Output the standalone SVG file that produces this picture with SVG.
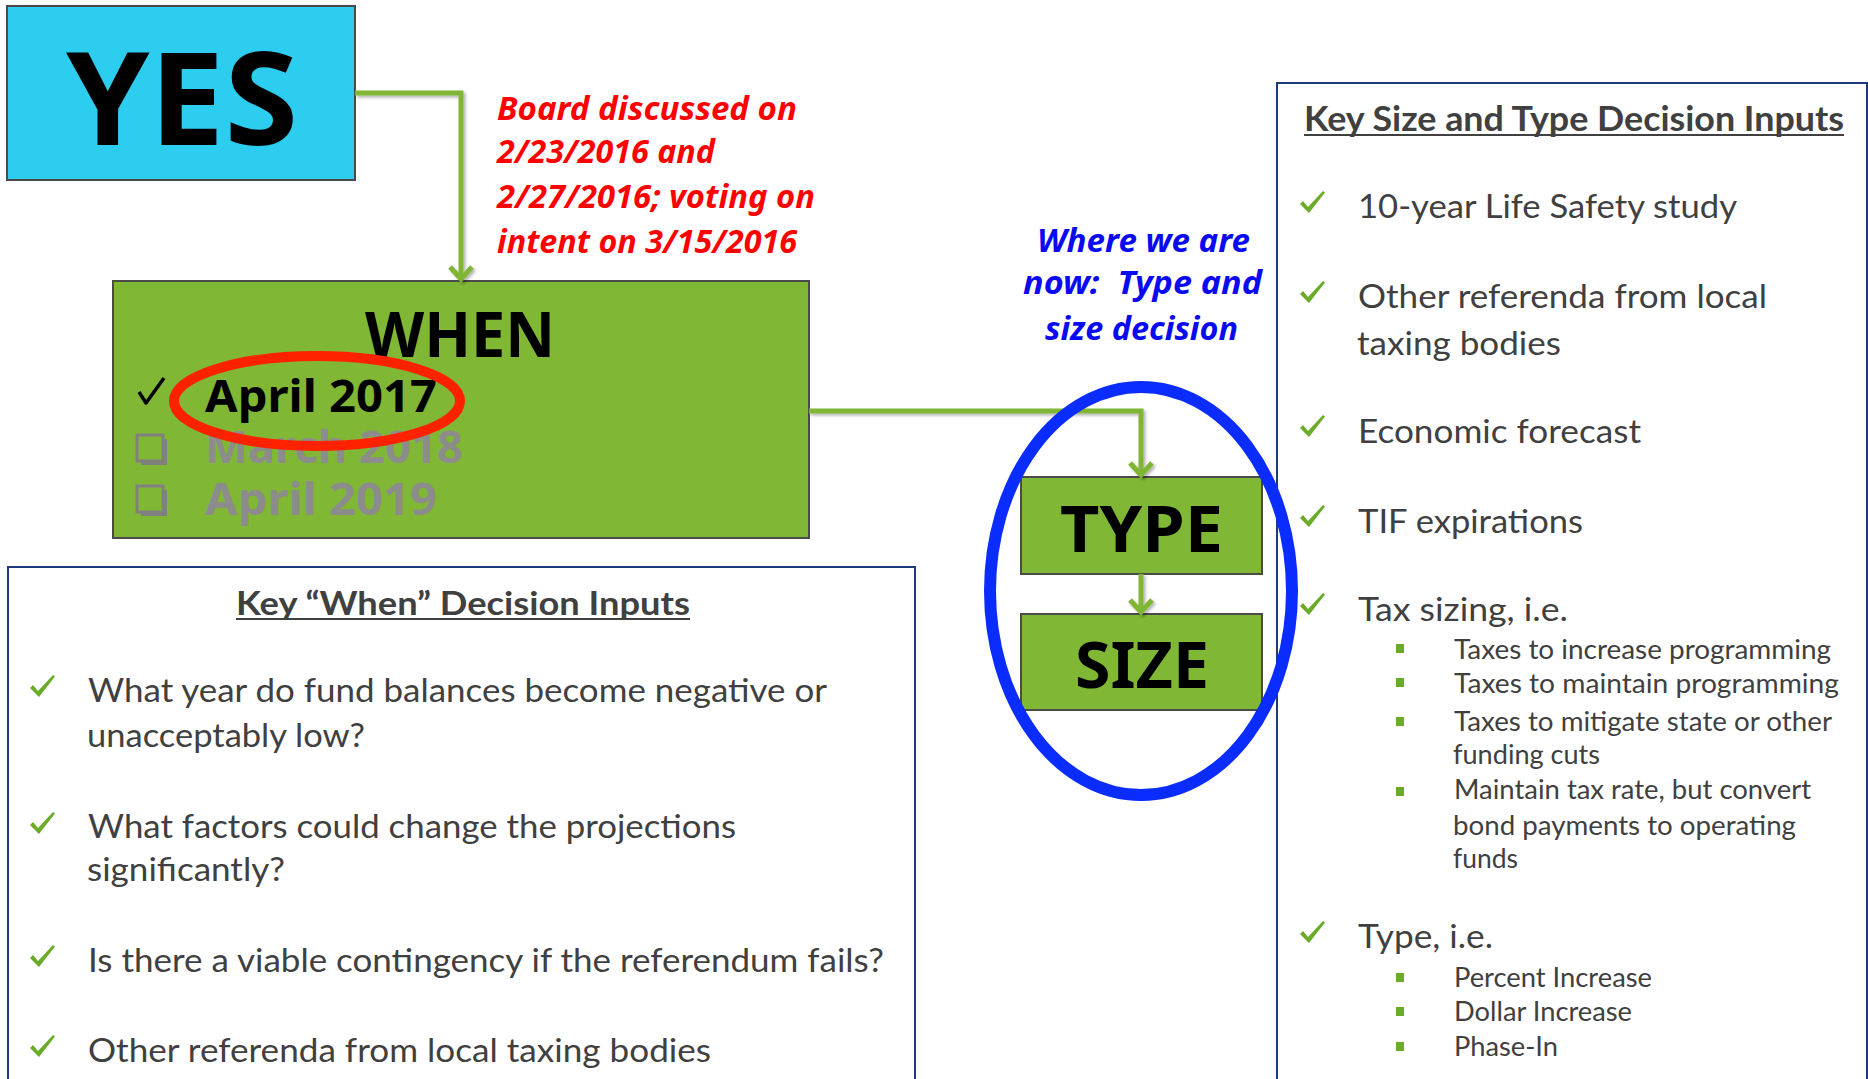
<svg xmlns="http://www.w3.org/2000/svg" width="1868" height="1079" viewBox="0 0 1868 1079">
  <style>
    .box { stroke: #4a4a4a; stroke-width: 2; }
    .cyan { fill: #2dcdf0; }
    .green { fill: #80b734; }
    .big { font-family: "Noto Sans", "Liberation Sans", sans-serif; font-weight: 700; fill: #000; }
    .red { font-family: "Noto Sans", "Liberation Sans", sans-serif; font-weight: 700; font-style: italic; font-size: 32px; fill: #ff0000; }
    .blue { font-family: "Noto Sans", "DejaVu Sans", sans-serif; font-weight: 700; font-style: italic; font-size: 33px; fill: #0a0af0; white-space: pre; }
    .opt { font-family: "Noto Sans", "Liberation Sans", sans-serif; font-weight: 700; font-size: 44px; }
    .panel { fill: #ffffff; stroke: #1f3a7a; stroke-width: 2; }
    .title { font-family: Lato, "Open Sans", sans-serif; font-weight: 700; fill: #404040; }
    .body { font-family: Lato, "Open Sans", sans-serif; fill: #404040; }
    .conn { fill: none; stroke: #80b534; stroke-width: 5; }
    .tick { fill: #6aab2a; }
    .sq { fill: #6aab2a; }
  </style>
  <defs>
    <filter id="shadow" x="-20%" y="-20%" width="140%" height="140%">
      <feDropShadow dx="2" dy="2" stdDeviation="1.5" flood-color="#000" flood-opacity="0.3"/>
    </filter>
    <marker id="chev" viewBox="-16 -16 20 32" markerWidth="20" markerHeight="32" refX="0" refY="0" orient="auto" markerUnits="userSpaceOnUse">
      <path d="M-12,-11 L0,0 L-12,11" fill="none" stroke="#80b534" stroke-width="5" stroke-linejoin="miter"/>
    </marker>
    <!-- green tick used by both bullet lists -->
    <path id="tk" d="M0,13 L3,10 L8,16 L23,0 L25,1.5 L9,22 Z"/>
    <!-- hollow checkbox with a drop edge -->
    <g id="cb">
      <rect x="4" y="4" width="26" height="26" fill="#808080"/>
      <rect x="0" y="0" width="26" height="26" fill="#80b734" stroke="#808080" stroke-width="3"/>
    </g>
  </defs>

  <rect width="1868" height="1079" fill="#ffffff"/>

  <!-- YES -->
  <g id="yes">
    <rect class="box cyan" x="7" y="6" width="348" height="174"/>
    <text class="big" x="66" y="145" font-size="130" textLength="232" lengthAdjust="spacingAndGlyphs">YES</text>
  </g>

  <!-- board note -->
  <g id="note">
    <text class="red" x="497" y="120" textLength="300" lengthAdjust="spacingAndGlyphs">Board discussed on</text>
    <text class="red" x="497" y="163" textLength="218" lengthAdjust="spacingAndGlyphs">2/23/2016 and</text>
    <text class="red" x="497" y="208" textLength="318" lengthAdjust="spacingAndGlyphs">2/27/2016; voting on</text>
    <text class="red" x="497" y="253" textLength="300" lengthAdjust="spacingAndGlyphs">intent on 3/15/2016</text>
  </g>

  <!-- WHEN -->
  <g id="when">
    <rect class="box green" x="113" y="281" width="696" height="257"/>
    <text class="big" x="365" y="357" font-size="63" textLength="190" lengthAdjust="spacingAndGlyphs">WHEN</text>
    <path d="M139,392 L146,403 L164,378" fill="none" stroke="#000" stroke-width="3.5" stroke-linejoin="round"/>
    <text class="opt" x="205" y="412" fill="#000" textLength="232" lengthAdjust="spacingAndGlyphs">April 2017</text>
    <use href="#cb" x="137" y="435"/>
    <text class="opt" x="205" y="463" fill="#8c8c8c" textLength="258" lengthAdjust="spacingAndGlyphs">March 2018</text>
    <use href="#cb" x="137" y="486"/>
    <text class="opt" x="205" y="515" fill="#8c8c8c" textLength="232" lengthAdjust="spacingAndGlyphs">April 2019</text>
    <ellipse cx="317" cy="401" rx="143" ry="45" fill="none" stroke="#ff2200" stroke-width="10"/>
  </g>

  <!-- status note -->
  <g id="status">
    <text class="blue" x="1037" y="252" textLength="213" lengthAdjust="spacingAndGlyphs">Where we are</text>
    <text class="blue" x="1023" y="294" textLength="239" lengthAdjust="spacingAndGlyphs" xml:space="preserve">now:  Type and</text>
    <text class="blue" x="1045" y="340" textLength="193" lengthAdjust="spacingAndGlyphs">size decision</text>
  </g>

  <!-- TYPE -->
  <g id="type">
    <rect class="box green" x="1021" y="477" width="241" height="97"/>
    <text class="big" x="1060" y="552" font-size="65" textLength="163" lengthAdjust="spacingAndGlyphs" font-family="DejaVu Sans, sans-serif">TYPE</text>
  </g>

  <!-- SIZE -->
  <g id="size">
    <rect class="box green" x="1021" y="614" width="241" height="96"/>
    <text class="big" x="1075" y="688" font-size="65" textLength="134" lengthAdjust="spacingAndGlyphs" font-family="DejaVu Sans, sans-serif">SIZE</text>
  </g>

  <!-- connectors -->
  <g id="connectors" filter="url(#shadow)">
    <path class="conn" d="M355,93 H461 V279" marker-end="url(#chev)"/>
    <path class="conn" d="M809,411 H1141 V475" marker-end="url(#chev)"/>
    <path class="conn" d="M1141,574 V612" marker-end="url(#chev)"/>
  </g>

  <!-- when inputs -->
  <g id="when-inputs">
    <rect class="panel" x="8" y="567" width="907" height="520"/>
    <text class="title" x="236" y="615" font-size="32" textLength="454" lengthAdjust="spacingAndGlyphs">Key “When” Decision Inputs</text>
    <rect x="236" y="618" width="454" height="2" fill="#404040"/>
    <g class="tick">
      <use href="#tk" x="30" y="675"/>
      <use href="#tk" x="30" y="812"/>
      <use href="#tk" x="30" y="945"/>
      <use href="#tk" x="30" y="1035"/>
    </g>
    <g class="body" font-size="32">
      <text x="88" y="702" textLength="739" lengthAdjust="spacingAndGlyphs">What year do fund balances become negative or</text>
      <text x="87" y="747" textLength="278" lengthAdjust="spacingAndGlyphs">unacceptably low?</text>
      <text x="88" y="838" textLength="648" lengthAdjust="spacingAndGlyphs">What factors could change the projections</text>
      <text x="87" y="881" textLength="198" lengthAdjust="spacingAndGlyphs">significantly?</text>
      <text x="88" y="972" textLength="796" lengthAdjust="spacingAndGlyphs">Is there a viable contingency if the referendum fails?</text>
      <text x="88" y="1062" textLength="623" lengthAdjust="spacingAndGlyphs">Other referenda from local taxing bodies</text>
    </g>
  </g>

  <!-- size and type inputs -->
  <g id="size-type-inputs">
    <rect class="panel" x="1277" y="83" width="590" height="1010"/>
    <text class="title" x="1304" y="131" font-size="35" textLength="540" lengthAdjust="spacingAndGlyphs">Key Size and Type Decision Inputs</text>
    <rect x="1304" y="134" width="540" height="2" fill="#404040"/>
    <g class="tick">
      <use href="#tk" x="1300" y="191"/>
      <use href="#tk" x="1300" y="281"/>
      <use href="#tk" x="1300" y="415"/>
      <use href="#tk" x="1300" y="505"/>
      <use href="#tk" x="1300" y="593"/>
      <use href="#tk" x="1300" y="921"/>
    </g>
    <g class="body" font-size="33">
      <text x="1358" y="218" textLength="379" lengthAdjust="spacingAndGlyphs">10-year Life Safety study</text>
      <text x="1358" y="308" textLength="409" lengthAdjust="spacingAndGlyphs">Other referenda from local</text>
      <text x="1357" y="355" textLength="204" lengthAdjust="spacingAndGlyphs">taxing bodies</text>
      <text x="1358" y="443" textLength="283" lengthAdjust="spacingAndGlyphs">Economic forecast</text>
      <text x="1358" y="533" textLength="225" lengthAdjust="spacingAndGlyphs">TIF expirations</text>
      <text x="1358" y="621" textLength="210" lengthAdjust="spacingAndGlyphs">Tax sizing, i.e.</text>
      <text x="1358" y="948" textLength="135" lengthAdjust="spacingAndGlyphs">Type, i.e.</text>
    </g>
    <g class="sq">
      <rect x="1396" y="644" width="8" height="9"/>
      <rect x="1396" y="678" width="8" height="9"/>
      <rect x="1396" y="717" width="8" height="9"/>
      <rect x="1396" y="787" width="8" height="9"/>
      <rect x="1396" y="973" width="8" height="9"/>
      <rect x="1396" y="1007" width="8" height="9"/>
      <rect x="1396" y="1042" width="8" height="9"/>
    </g>
    <g class="body" font-size="26">
      <text x="1454" y="659" textLength="377" lengthAdjust="spacingAndGlyphs">Taxes to increase programming</text>
      <text x="1454" y="693" textLength="385" lengthAdjust="spacingAndGlyphs">Taxes to maintain programming</text>
      <text x="1454" y="731" textLength="378" lengthAdjust="spacingAndGlyphs">Taxes to mitigate state or other</text>
      <text x="1453" y="764" textLength="147" lengthAdjust="spacingAndGlyphs">funding cuts</text>
      <text x="1454" y="799" textLength="357" lengthAdjust="spacingAndGlyphs">Maintain tax rate, but convert</text>
      <text x="1453" y="835" textLength="343" lengthAdjust="spacingAndGlyphs">bond payments to operating</text>
      <text x="1453" y="868" textLength="65" lengthAdjust="spacingAndGlyphs">funds</text>
      <text x="1454" y="987" textLength="198" lengthAdjust="spacingAndGlyphs">Percent Increase</text>
      <text x="1454" y="1021" textLength="178" lengthAdjust="spacingAndGlyphs">Dollar Increase</text>
      <text x="1454" y="1056" textLength="104" lengthAdjust="spacingAndGlyphs">Phase-In</text>
    </g>
  </g>

  <!-- highlight ring round TYPE and SIZE -->
  <ellipse id="focus-ring" cx="1141" cy="591" rx="151" ry="204" fill="none" stroke="#0a2cff" stroke-width="12"/>
</svg>
